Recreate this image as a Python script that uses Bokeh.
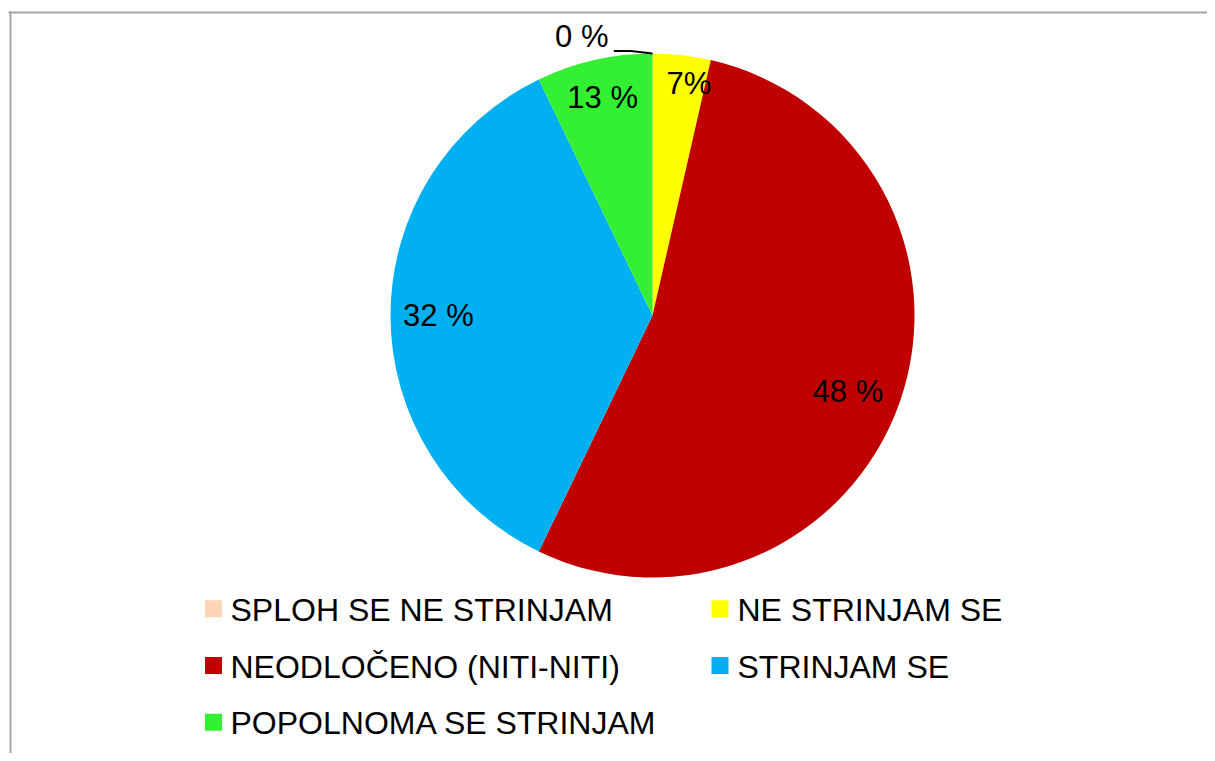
import math
from bokeh.plotting import figure
from bokeh.models import Range1d, ColumnDataSource
from bokeh.core.properties import value
from bokeh.embed import file_html
from bokeh.resources import INLINE

# ---- data ----
categories = ["SPLOH SE NE STRINJAM", "NE STRINJAM SE", "NEODLOČENO (NITI-NITI)",
              "STRINJAM SE", "POPOLNOMA SE STRINJAM"]
counts = [0, 1, 15, 10, 2]
pct_labels = ["0 %", "7%", "48 %", "32 %", "13 %"]
colors = ["#FCD5B5", "#FFFF00", "#C00000", "#00B0F0", "#33F033"]

# ---- layout (page pixel coordinates) ----
W, H = 1207, 753
ORIGIN = 0          # observed page position of the canvas
BOTTOM = ORIGIN + H
CX, CY, R = 652, 315, 262
label_rho = [1.10, 0.895, 0.80, 0.817, 0.855]
label_dtheta = [-14.2, 2.5, 1.9, 0.0, 0.0]
FONT = value("Liberation Sans")
FS_LABEL = "31px"
FS_LEGEND = "32px"
TEXT_DY = 0         # baseline offset relative to cap centre (as rendered)


def Y(py):
    return BOTTOM - py


p = figure(width=W, height=H, x_range=Range1d(ORIGIN, ORIGIN + W), y_range=Range1d(0, H),
           x_axis_type=None, y_axis_type=None, toolbar_location=None,
           output_backend="svg", min_border=0, outline_line_color=None)
p.grid.visible = False

# frame lines
p.segment(x0=[8, 10], y0=[Y(12), Y(11)], x1=[ORIGIN + W, 10], y1=[Y(12), Y(BOTTOM)],
          line_color="#a6a6a6", line_width=2)

# pie wedges
total = sum(counts)
cum = 0
starts, ends, mids = [], [], []
for v in counts:
    starts.append(math.pi / 2 - 2 * math.pi * cum / total)
    mids.append(360.0 * (cum + v / 2) / total)
    cum += v
    ends.append(math.pi / 2 - 2 * math.pi * cum / total)

idx = [i for i, v in enumerate(counts) if v > 0]
wsrc = ColumnDataSource(dict(
    x=[CX] * len(idx), y=[Y(CY)] * len(idx),
    s=[starts[i] for i in idx], e=[ends[i] for i in idx],
    c=[colors[i] for i in idx]))
p.wedge(x="x", y="y", radius=R, radius_units="screen", start_angle="s", end_angle="e",
        direction="clock", fill_color="c", line_color=None, source=wsrc)

# data labels
lx, ly, cy_page = [], [], []
for i in range(len(counts)):
    th = math.radians(mids[i] + label_dtheta[i])
    rho = label_rho[i] * R
    lx.append(CX + rho * math.sin(th))
    cy_page.append(CY - rho * math.cos(th))
    ly.append(Y(cy_page[-1] + TEXT_DY))
p.text(x=lx, y=ly, text=pct_labels, text_font=FONT, text_font_size=FS_LABEL,
       text_align="center", text_baseline="alphabetic", text_color="black")

# leader line for the zero slice
zi = 0
th0 = math.radians(mids[zi])
ex, ey = CX + R * math.sin(th0), CY - R * math.cos(th0)
sx = lx[zi] + 32
sy = cy_page[zi] + 15
p.line(x=[sx, sx + 17, ex], y=[Y(sy), Y(sy), Y(ey)], line_color="black", line_width=2)

# legend (2 columns, row-major)
col_marker_x = [213, 719.5]
col_text_x = [230, 737]
row0_y, row_dy = 608.3, 56.7
mx, my, tx, ty = [], [], [], []
for i in range(len(categories)):
    r, c = divmod(i, 2)
    yy = row0_y + r * row_dy
    mx.append(col_marker_x[c]); my.append(Y(yy))
    tx.append(col_text_x[c]); ty.append(Y(yy + 1 + TEXT_DY))
p.scatter(x=mx, y=my, marker="square", size=17, fill_color=colors, line_color=None)
p.text(x=tx, y=ty, text=categories, text_font=FONT, text_font_size=FS_LEGEND,
       text_align="left", text_baseline="alphabetic", text_color="black")

open("out.html", "w").write(file_html(p, INLINE))
